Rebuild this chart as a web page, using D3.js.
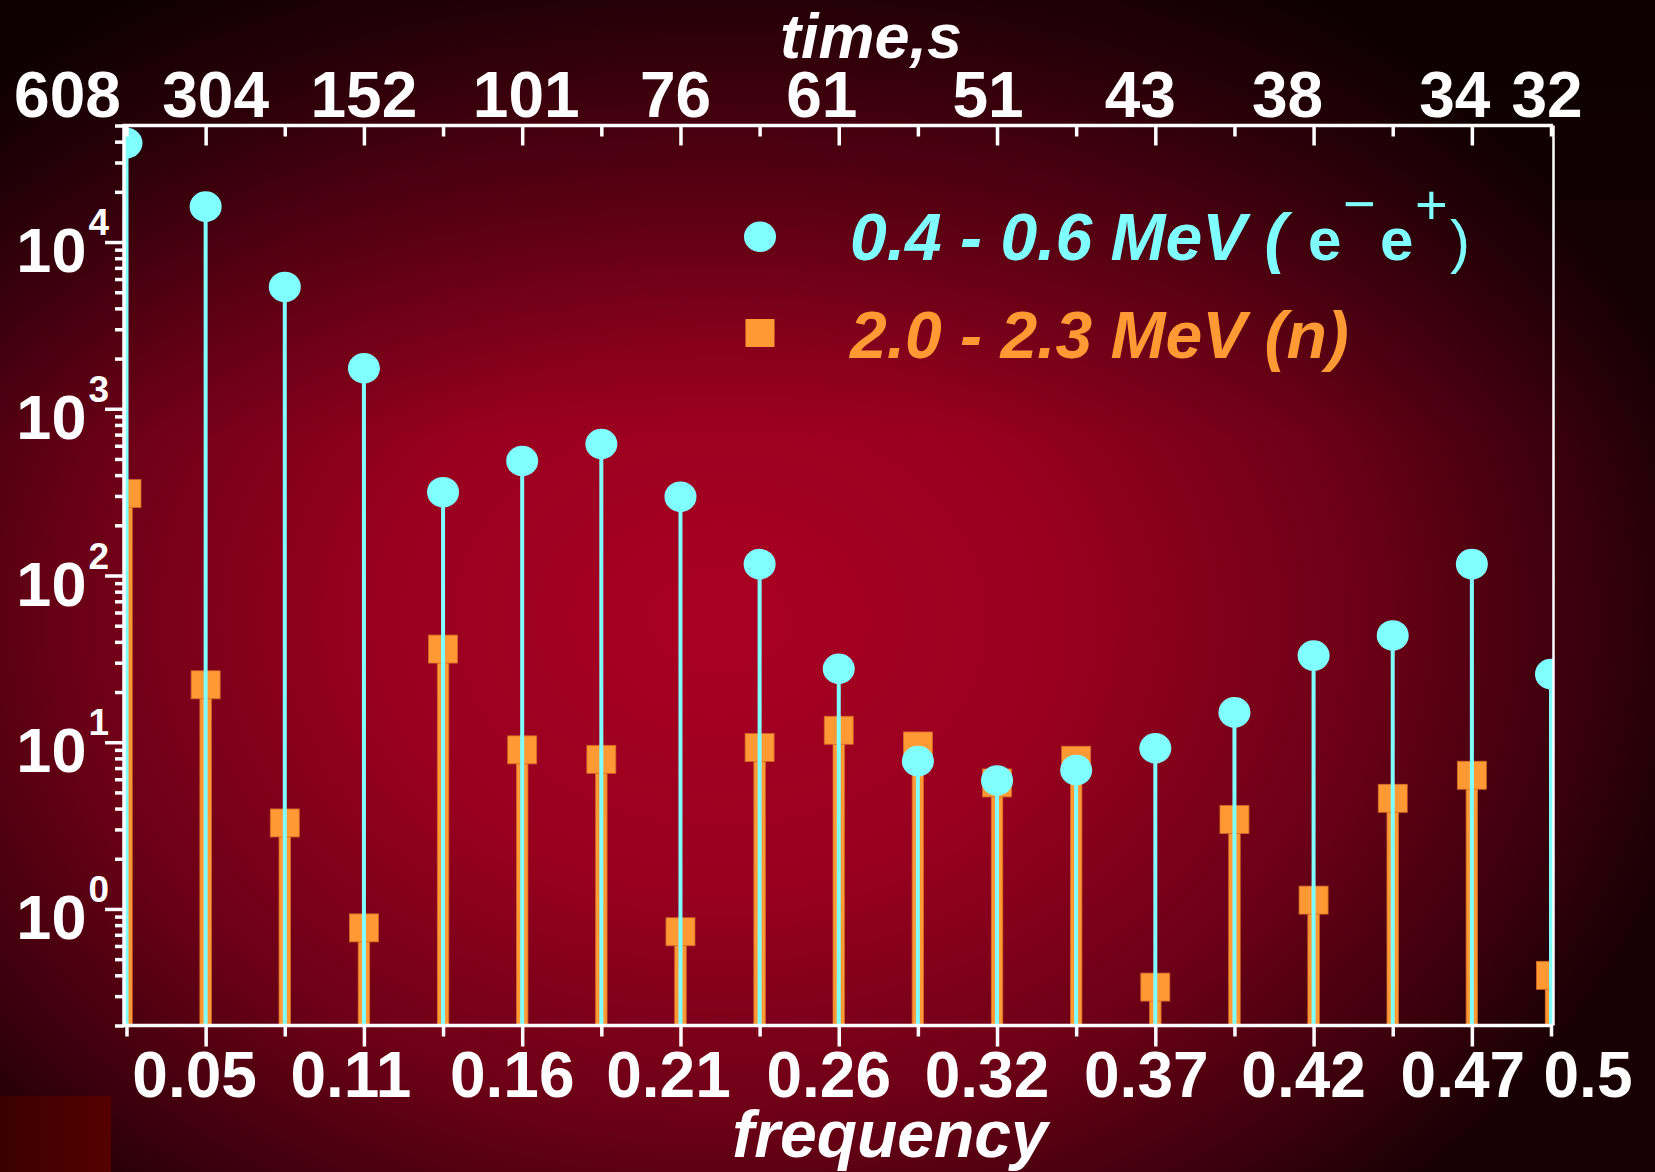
<!DOCTYPE html>
<html>
<head>
<meta charset="utf-8">
<script src="https://cdn.jsdelivr.net/npm/d3@7"></script>
<style>
  html, body { margin: 0; padding: 0; background: #140003; overflow: hidden; }
  svg { display: block; }
  text { font-family: 'Liberation Sans', Arial, sans-serif; font-weight: bold; fill: #fff; }
</style>
</head>
<body>
<div class="chart"></div>
<script>
// harmonics of the 608 s record, frequency in cycles per sample
const freqs = [0.026316, 0.052632, 0.078947, 0.105263, 0.131579, 0.157895, 0.184211, 0.210526, 0.236842,
    0.263158, 0.289474, 0.315789, 0.342105, 0.368421, 0.394737, 0.421053, 0.447368, 0.473684, 0.5]
// 0.4 - 0.6 MeV (e- e+)
const electrons = [39200, 16300, 5380, 1750, 316, 486, 615, 297, 117, 27.6, 7.7, 5.9, 6.8, 9.2, 15.1, 33.1, 43.7, 117, 25.6]
// 2.0 - 2.3 MeV (n)
const neutrons = [310, 22.1, 3.28, 0.77, 36.2, 9.0, 7.9, 0.73, 9.3, 11.8, 9.5, 5.7, 7.8, 0.34, 3.44, 1.13, 4.61, 6.34, 0.40]

const freqLabels = ['', '0.05', '', '0.11', '', '0.16', '', '0.21', '', '0.26', '', '0.32', '', '0.37', '', '0.42', '', '0.47', '0.5']
const timeLabels = ['608', '304', '', '152', '', '101', '', '76', '', '61', '', '51', '', '43', '', '38', '', '34', '32']
const decades = [1, 10, 100, 1000, 10000]
const exponents = ['0', '1', '2', '3', '4']

// labels in the original are nudged by hand
const bottomShift = [0, -11, 0, -13, 0, -10, 0, -12, 0, -10, 0, -10, 0, -9, 0, -10, 0, -9, 37]
const topShift = [-59, 10, 0, 0, 0, 4, 0, -5, 0, -17, 0, -9, 0, -15, 0, -26, 0, -17, -4]

const W = 1655, H = 1172
const pLeft = 124, pRight = 1553, pTop = 125.5, pBottom = 1025.5
const cyan = '#80ffff', orange = '#ff9933'

let svg = d3.select('.chart').append('svg')
    .attr('width', W)
    .attr('height', H)

let defs = svg.append('defs')
let rg = defs.append('radialGradient')
    .attr('id', 'bg')
    .attr('gradientUnits', 'userSpaceOnUse')
    .attr('cx', 720).attr('cy', 620).attr('r', 1000)
    .attr('gradientTransform', 'translate(720,620) scale(1,0.78) translate(-720,-620)')
rg.append('stop').attr('offset', 0).attr('stop-color', '#aa0022')
rg.append('stop').attr('offset', 0.35).attr('stop-color', '#98001f')
rg.append('stop').attr('offset', 0.65).attr('stop-color', '#6a0016')
rg.append('stop').attr('offset', 0.88).attr('stop-color', '#36000b')
rg.append('stop').attr('offset', 1).attr('stop-color', '#180004')

let lg = defs.append('linearGradient')
    .attr('id', 'topshade')
    .attr('gradientUnits', 'userSpaceOnUse')
    .attr('x1', 0).attr('y1', 0).attr('x2', 0).attr('y2', 440)
lg.append('stop').attr('offset', 0).attr('stop-color', '#000').attr('stop-opacity', 0.5)
lg.append('stop').attr('offset', 1).attr('stop-color', '#000').attr('stop-opacity', 0)

let lg2 = defs.append('linearGradient').attr('id', 'patch')
lg2.append('stop').attr('offset', 0).attr('stop-color', '#3a0000')
lg2.append('stop').attr('offset', 1).attr('stop-color', '#560000')

defs.append('clipPath').attr('id', 'plot')
    .append('rect')
    .attr('x', pLeft).attr('y', pTop)
    .attr('width', pRight - pLeft).attr('height', pBottom - pTop)

svg.append('rect').attr('width', W).attr('height', H).attr('fill', 'url(#bg)')
svg.append('rect').attr('width', W).attr('height', H).attr('fill', 'url(#topshade)')
svg.append('rect').attr('x', 0).attr('y', 1096).attr('width', 111).attr('height', 76).attr('fill', 'url(#patch)')

const x = d3.scaleLinear().domain([freqs[0], freqs[freqs.length - 1]]).range([126.5, 1551])
const y = d3.scaleLog().domain([0.2, 50000]).range([pBottom, pTop])

let plot = svg.append('g').attr('clip-path', 'url(#plot)')

// neutrons: wide orange stems and squares
plot.selectAll('.nstem').data(neutrons).join('rect')
    .attr('x', (d, i) => x(freqs[i]) - 5.75)
    .attr('y', d => y(d))
    .attr('width', 11.5)
    .attr('height', d => pBottom - y(d))
    .attr('fill', orange)
    .attr('stroke', '#d06a2a')
    .attr('stroke-width', 0.8)
plot.selectAll('.nmark').data(neutrons).join('rect')
    .attr('x', (d, i) => x(freqs[i]) - 14.5)
    .attr('y', d => y(d) - 14)
    .attr('width', 29)
    .attr('height', 28)
    .attr('fill', orange)
    .attr('stroke', '#d06a2a')
    .attr('stroke-width', 0.8)

// electrons: thin cyan stems and circles
plot.selectAll('.estem').data(electrons).join('line')
    .attr('x1', (d, i) => x(freqs[i]))
    .attr('x2', (d, i) => x(freqs[i]))
    .attr('y1', d => y(d))
    .attr('y2', pBottom)
    .attr('stroke', cyan)
    .attr('stroke-width', 4)
plot.selectAll('.emark').data(electrons).join('ellipse')
    .attr('cx', (d, i) => x(freqs[i]))
    .attr('cy', d => y(d))
    .attr('rx', 16)
    .attr('ry', 15.3)
    .attr('fill', cyan)

// axes
let styleAxis = (g) => {
    g.select('.domain').remove()
    g.selectAll('.tick line').attr('stroke', '#fff').attr('stroke-width', 3.5)
}

let yAxis = svg.append('g')
    .attr('transform', `translate(${pLeft},0)`)
    .call(d3.axisLeft(y).tickValues(y.ticks()).tickSize(9).tickSizeOuter(0).tickFormat(''))
    .call(styleAxis)
yAxis.selectAll('.tick line')
    .filter(d => decades.includes(Math.round(d * 1e6) / 1e6))
    .attr('x2', -19)

let xAxis = svg.append('g')
    .attr('transform', `translate(0,${pBottom})`)
    .call(d3.axisBottom(x).tickValues(freqs).tickSize(11).tickSizeOuter(0).tickFormat(''))
    .call(styleAxis)
xAxis.selectAll('.tick line')
    .filter((d, i) => i % 2 == 1)
    .attr('y2', 21)

let tAxis = svg.append('g')
    .attr('transform', `translate(0,${pTop})`)
    .call(d3.axisTop(x).tickValues(freqs).tickSize(-11).tickSizeOuter(0).tickFormat(''))
    .call(styleAxis)
tAxis.selectAll('.tick line')
    .filter((d, i) => i % 2 == 1)
    .attr('y2', 20)

// frame
svg.append('path')
    .attr('d', `M${pLeft},${pBottom}V${pTop}H${pRight}`)
    .attr('fill', 'none').attr('stroke', '#fff').attr('stroke-width', 3.5)
svg.append('line')
    .attr('x1', pLeft).attr('x2', pRight).attr('y1', pBottom).attr('y2', pBottom)
    .attr('stroke', '#fff').attr('stroke-width', 3.5)
svg.append('line')
    .attr('x1', pRight + 0.5).attr('x2', pRight + 0.5).attr('y1', pTop).attr('y2', pBottom)
    .attr('stroke', '#fff').attr('stroke-width', 2.5)

// tick labels
svg.append('g').selectAll('text').data(freqLabels).join('text')
    .attr('x', (d, i) => x(freqs[i]) + bottomShift[i])
    .attr('y', 1097)
    .attr('text-anchor', 'middle')
    .style('font-size', '64px')
    .text(d => d)

svg.append('g').selectAll('text').data(timeLabels).join('text')
    .attr('x', (d, i) => x(freqs[i]) + topShift[i])
    .attr('y', 117)
    .attr('text-anchor', 'middle')
    .style('font-size', '64px')
    .text(d => d)

let ylab = svg.append('g').selectAll('text').data(decades).join('text')
    .attr('x', 109)
    .attr('y', d => y(d) + 30)
    .attr('text-anchor', 'end')
ylab.append('tspan').style('font-size', '63px').text('10')
ylab.append('tspan').style('font-size', '37px').attr('dx', 2).attr('dy', -37)
    .text((d, i) => exponents[i])

// axis titles
svg.append('text')
    .attr('x', 871).attr('y', 58)
    .attr('text-anchor', 'middle')
    .style('font-size', '63px').style('font-style', 'italic')
    .text('time,s')
svg.append('text')
    .attr('x', 890).attr('y', 1157)
    .attr('text-anchor', 'middle')
    .style('font-size', '66px').style('font-style', 'italic')
    .text('frequency')

// legend
let leg = svg.append('g')
leg.append('ellipse').attr('cx', 760).attr('cy', 236.7).attr('rx', 16).attr('ry', 15.3).attr('fill', cyan)
leg.append('rect').attr('x', 745.5).attr('y', 319).attr('width', 29).attr('height', 28).attr('fill', orange)

leg.append('text').attr('x', 850).attr('y', 260)
    .style('font-size', '66px').style('font-style', 'italic').style('fill', cyan)
    .text('0.4 - 0.6 MeV (')
let part = [
    {t: 'e', x: 1308, y: 260, s: 60, w: 'bold'},
    {t: '\u2212', x: 1343, y: 223, s: 56, w: 'normal'},
    {t: 'e', x: 1380, y: 260, s: 60, w: 'bold'},
    {t: '+', x: 1415, y: 224, s: 56, w: 'normal'},
    {t: ')', x: 1450, y: 262, s: 60, w: 'normal'}
]
leg.selectAll('.part').data(part).join('text')
    .attr('x', d => d.x).attr('y', d => d.y)
    .style('font-size', d => d.s + 'px')
    .style('font-weight', d => d.w)
    .style('fill', cyan)
    .text(d => d.t)

leg.append('text').attr('x', 850).attr('y', 358)
    .style('font-size', '66px').style('font-style', 'italic').style('fill', orange)
    .text('2.0 - 2.3 MeV (n)')
</script>
</body>
</html>
